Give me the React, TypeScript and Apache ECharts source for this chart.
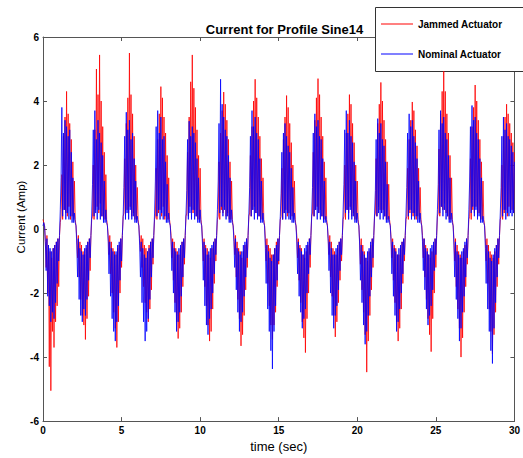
import React, { useEffect, useRef } from "react";
import * as echarts from "echarts";

// Samples per second of the recorded current traces (time grid of the series)
const sampleRate = 20;

// Jammed actuator current (Amp), one row per 2 s of the profile
const jammed: number[] = [
  0.3, 0.2, 0.1, -0.4, -1.2, -0.2, -2.0, -0.5, -4.3, -0.7, -5.05, -0.9, -3.2, -0.6, -3.7, -0.5, -2.9, -0.4, -2.4, -0.3, -1.8, -0.2, 0.2, 0.4, 1.7, 0.3, 2.9, 0.6, 3.5, 0.5, 4.3, 0.4, 3.6, 0.7, 3.3, 0.3, 2.8, 0.4, 2.1, 0.3,
  1.5, 0.3, 0.1, -0.3, -0.9, -0.2, -1.5, -0.4, -2.2, -0.5, -2.7, -0.7, -3.0, -0.8, -3.45, -0.6, -2.8, -0.4, -2.1, -0.3, -1.3, -0.2, 0.3, 0.4, 2.0, 0.3, 3.1, 0.6, 5.0, 0.7, 4.2, 0.5, 5.44, 0.8, 4.0, 0.4, 3.2, 0.3, 2.4, 0.3,
  1.7, 0.3, 0.1, -0.2, -0.8, -0.2, -1.4, -0.4, -2.0, -0.6, -2.6, -0.7, -3.1, -0.8, -3.7, -0.6, -2.9, -0.5, -2.0, -0.3, -1.2, -0.2, 0.4, 0.5, 2.2, 0.4, 3.3, 0.6, 4.1, 0.5, 5.5, 0.7, 4.2, 0.4, 3.6, 0.5, 2.9, 0.3, 2.0, 0.3,
  1.3, 0.3, 0.1, -0.3, -0.7, -0.2, -1.2, -0.3, -1.8, -0.5, -2.3, -0.6, -2.6, -0.7, -2.9, -0.5, -2.5, -0.4, -1.9, -0.3, -1.1, -0.2, 0.3, 0.4, 1.9, 0.3, 2.8, 0.5, 3.6, 0.6, 4.45, 0.4, 4.1, 0.7, 3.5, 0.3, 3.0, 0.4, 2.3, 0.3,
  1.6, 0.3, 0.1, -0.2, -0.9, -0.3, -1.6, -0.4, -2.3, -0.6, -2.9, -0.7, -3.42, -0.8, -3.1, -0.6, -2.6, -0.4, -1.8, -0.3, -1.1, -0.2, 0.4, 0.5, 2.4, 0.4, 3.5, 0.7, 4.6, 0.6, 5.44, 0.5, 4.4, 0.6, 3.8, 0.4, 3.1, 0.3, 2.3, 0.3,
  1.9, 0.3, 0.1, -0.3, -1.0, -0.3, -1.8, -0.5, -2.4, -0.6, -3.0, -0.8, -3.5, -0.9, -3.2, -0.6, -2.5, -0.4, -1.7, -0.3, -1.0, -0.2, 0.3, 0.4, 2.1, 0.3, 3.0, 0.6, 3.7, 0.5, 4.28, 0.7, 3.9, 0.4, 3.4, 0.5, 2.8, 0.3, 2.1, 0.3,
  1.5, 0.3, 0.1, -0.2, -0.8, -0.2, -1.5, -0.4, -2.2, -0.6, -2.8, -0.7, -3.65, -0.9, -3.3, -0.7, -2.7, -0.5, -1.9, -0.3, -1.2, -0.2, 0.4, 0.5, 2.3, 0.4, 3.2, 0.6, 4.0, 0.7, 4.68, 0.5, 4.1, 0.6, 3.5, 0.4, 2.9, 0.3, 2.2, 0.3,
  1.6, 0.3, 0.1, -0.3, -1.0, -0.3, -1.7, -0.5, -2.4, -0.6, -3.0, -0.8, -3.45, -0.8, -3.0, -0.6, -2.6, -0.4, -1.8, -0.3, -1.1, -0.2, 0.3, 0.4, 1.9, 0.3, 2.8, 0.5, 3.5, 0.6, 4.17, 0.4, 3.8, 0.5, 3.3, 0.3, 2.7, 0.4, 2.0, 0.3,
  1.5, 0.3, 0.1, -0.2, -0.9, -0.3, -1.6, -0.5, -2.3, -0.6, -2.9, -0.8, -3.4, -0.9, -3.86, -0.7, -2.8, -0.5, -2.0, -0.3, -1.2, -0.2, 0.4, 0.5, 2.4, 0.4, 3.4, 0.6, 4.1, 0.7, 4.7, 0.5, 4.2, 0.6, 3.5, 0.4, 2.9, 0.3, 2.1, 0.3,
  1.6, 0.3, 0.1, -0.3, -0.8, -0.2, -1.5, -0.4, -2.1, -0.6, -2.7, -0.7, -3.37, -0.8, -2.9, -0.6, -2.3, -0.4, -1.6, -0.3, -1.0, -0.2, 0.3, 0.4, 2.0, 0.3, 3.0, 0.6, 3.6, 0.5, 4.2, 0.7, 3.9, 0.4, 3.3, 0.5, 2.7, 0.3, 2.0, 0.3,
  1.5, 0.3, 0.1, -0.4, -1.1, -0.3, -1.9, -0.5, -2.6, -0.7, -3.3, -0.9, -4.47, -1.0, -3.5, -0.7, -2.7, -0.5, -1.9, -0.3, -1.2, -0.2, 0.4, 0.5, 2.2, 0.4, 3.3, 0.7, 3.9, 0.6, 4.58, 0.5, 4.0, 0.6, 3.4, 0.4, 2.8, 0.3, 2.1, 0.3,
  1.4, 0.3, 0.1, -0.3, -0.9, -0.3, -1.6, -0.5, -2.3, -0.6, -2.9, -0.8, -3.5, -0.8, -3.1, -0.6, -2.5, -0.4, -1.7, -0.3, -1.0, -0.2, 0.3, 0.4, 1.9, 0.3, 2.8, 0.5, 3.4, 0.6, 3.97, 0.4, 3.7, 0.5, 3.1, 0.3, 2.6, 0.4, 1.9, 0.3,
  1.3, 0.3, 0.1, -0.2, -0.9, -0.3, -1.5, -0.5, -2.2, -0.6, -2.8, -0.8, -3.3, -0.9, -3.83, -0.7, -2.8, -0.5, -2.0, -0.3, -1.2, -0.2, 0.4, 0.5, 2.5, 0.4, 3.6, 0.7, 4.3, 0.6, 4.93, 0.8, 4.3, 0.5, 3.6, 0.4, 3.0, 0.3, 2.3, 0.3,
  1.6, 0.3, 0.1, -0.3, -1.0, -0.3, -1.8, -0.5, -2.5, -0.7, -3.1, -0.8, -4.0, -0.9, -3.4, -0.7, -2.6, -0.5, -1.8, -0.3, -1.1, -0.2, 0.3, 0.4, 2.2, 0.3, 3.2, 0.6, 3.8, 0.5, 4.5, 0.7, 4.0, 0.4, 3.4, 0.5, 2.8, 0.3, 2.1, 0.3,
  1.5, 0.3, 0.1, -0.3, -1.0, -0.3, -1.7, -0.5, -2.5, -0.7, -3.2, -0.8, -3.9, -0.9, -3.3, -0.7, -2.6, -0.5, -1.8, -0.3, -1.1, -0.2, 0.3, 0.4, 2.0, 0.3, 2.9, 0.5, 3.5, 0.6, 3.9, 0.4, 3.6, 0.7, 3.3, 0.5, 3.0, 0.6, 2.7, 0.5,
  2.4,
];

// Nominal actuator current (Amp), one row per 2 s of the profile
const nominal: number[] = [
  0.1, 0.2, 0.1, -0.4, -1.3, -0.3, -2.1, -0.5, -2.4, -0.6, -2.9, -0.7, -2.6, -0.6, -2.8, -0.5, -2.3, -0.4, -1.7, -0.3, -1.0, -0.2, 0.6, 1.6, 3.8, 0.4, 3.0, 0.6, 3.4, 0.3, 3.2, 0.5, 2.9, 0.3, 3.1, 0.4, 2.4, 0.2, 1.6, 0.2,
  0.5, 0.2, 0.1, -0.5, -1.5, -0.3, -2.2, -0.6, -2.7, -0.7, -2.9, -0.8, -2.5, -0.6, -2.7, -0.5, -2.2, -0.4, -1.6, -0.3, -0.9, -0.2, 0.5, 1.4, 3.1, 0.4, 3.7, 0.5, 2.8, 0.3, 3.4, 0.6, 3.0, 0.3, 2.7, 0.4, 2.3, 0.2, 1.5, 0.2,
  0.6, 0.2, 0.1, -0.4, -1.4, -0.4, -2.1, -0.6, -2.8, -0.7, -3.2, -0.8, -3.5, -0.7, -2.9, -0.5, -2.4, -0.4, -1.6, -0.3, -1.0, -0.2, 0.4, 1.3, 2.9, 0.3, 3.65, 0.5, 3.1, 0.3, 3.4, 0.6, 2.8, 0.3, 3.0, 0.4, 2.2, 0.2, 1.5, 0.2,
  0.4, 0.2, 0.1, -0.5, -1.5, -0.4, -2.3, -0.6, -2.9, -0.8, -3.5, -0.9, -3.2, -0.7, -2.8, -0.6, -2.2, -0.4, -1.5, -0.3, -0.9, -0.2, 0.5, 1.5, 3.2, 0.4, 3.7, 0.6, 3.0, 0.3, 3.5, 0.5, 2.8, 0.3, 2.9, 0.4, 2.1, 0.2, 1.4, 0.2,
  0.5, 0.2, 0.1, -0.4, -1.3, -0.4, -2.0, -0.6, -2.6, -0.7, -3.2, -0.8, -2.9, -0.6, -2.6, -0.5, -2.1, -0.4, -1.5, -0.3, -0.9, -0.2, 0.5, 1.2, 2.8, 0.3, 3.37, 0.5, 2.9, 0.3, 3.2, 0.6, 3.0, 0.3, 2.7, 0.4, 2.2, 0.2, 1.6, 0.2,
  0.6, 0.2, 0.1, -0.5, -1.6, -0.4, -2.4, -0.6, -3.0, -0.8, -3.3, -0.7, -2.8, -0.6, -2.5, -0.5, -2.0, -0.4, -1.4, -0.3, -0.8, -0.2, 0.6, 1.5, 3.3, 0.5, 4.68, 0.7, 3.9, 0.4, 3.5, 0.6, 3.1, 0.3, 2.9, 0.4, 2.3, 0.2, 1.6, 0.2,
  0.6, 0.2, 0.1, -0.4, -1.2, -0.3, -1.9, -0.6, -2.6, -0.7, -3.2, -0.8, -2.9, -0.7, -2.6, -0.5, -2.1, -0.4, -1.5, -0.3, -0.9, -0.2, 0.5, 1.3, 2.9, 0.4, 3.7, 0.6, 3.2, 0.3, 3.5, 0.5, 3.0, 0.3, 2.8, 0.4, 2.2, 0.2, 1.5, 0.2,
  0.5, 0.2, 0.1, -0.6, -1.7, -0.5, -2.5, -0.7, -3.2, -0.9, -3.8, -1.0, -4.37, -0.8, -3.2, -0.6, -2.4, -0.5, -1.6, -0.3, -1.0, -0.2, 0.4, 1.1, 2.4, 0.3, 3.0, 0.5, 3.3, 0.3, 2.9, 0.5, 2.6, 0.3, 2.4, 0.3, 1.9, 0.2, 1.3, 0.2,
  0.5, 0.2, 0.1, -0.4, -1.4, -0.4, -2.1, -0.6, -2.6, -0.7, -3.1, -0.8, -2.8, -0.6, -2.5, -0.5, -2.0, -0.4, -1.4, -0.3, -0.8, -0.2, 0.5, 1.3, 3.0, 0.4, 3.6, 0.6, 3.2, 0.3, 3.4, 0.5, 2.9, 0.3, 2.8, 0.4, 2.2, 0.2, 1.5, 0.2,
  0.4, 0.2, 0.1, -0.4, -1.3, -0.4, -2.0, -0.6, -2.7, -0.8, -3.1, -0.8, -2.7, -0.6, -2.4, -0.5, -1.9, -0.4, -1.3, -0.3, -0.8, -0.2, 0.6, 1.4, 3.1, 0.5, 3.7, 0.6, 3.0, 0.3, 3.4, 0.6, 2.9, 0.3, 2.7, 0.4, 2.1, 0.2, 1.5, 0.2,
  0.5, 0.2, 0.1, -0.5, -1.6, -0.5, -2.3, -0.7, -3.0, -0.8, -3.6, -0.9, -3.2, -0.7, -2.7, -0.6, -2.1, -0.4, -1.5, -0.3, -0.9, -0.2, 0.5, 1.2, 2.8, 0.4, 3.45, 0.5, 3.0, 0.3, 3.3, 0.5, 2.8, 0.3, 2.6, 0.4, 2.1, 0.2, 1.4, 0.2,
  0.4, 0.2, 0.1, -0.4, -1.4, -0.4, -2.1, -0.6, -2.7, -0.7, -3.2, -0.8, -2.9, -0.6, -2.5, -0.5, -2.0, -0.4, -1.4, -0.3, -0.8, -0.2, 0.5, 1.3, 3.0, 0.4, 3.6, 0.6, 3.2, 0.3, 3.4, 0.5, 2.9, 0.3, 2.7, 0.4, 2.2, 0.2, 1.5, 0.2,
  0.5, 0.2, 0.1, -0.4, -1.3, -0.3, -1.9, -0.6, -2.5, -0.7, -3.0, -0.8, -2.7, -0.6, -2.4, -0.5, -1.9, -0.4, -1.3, -0.3, -0.8, -0.2, 0.6, 1.4, 3.1, 0.5, 3.7, 0.7, 3.3, 0.4, 3.5, 0.6, 3.0, 0.3, 2.8, 0.4, 2.3, 0.2, 1.6, 0.2,
  0.5, 0.2, 0.1, -0.5, -1.5, -0.4, -2.2, -0.7, -2.8, -0.8, -3.5, -0.9, -3.1, -0.7, -2.6, -0.6, -2.1, -0.4, -1.5, -0.3, -0.9, -0.2, 0.6, 1.5, 3.2, 0.5, 3.86, 0.7, 3.4, 0.4, 3.5, 0.6, 3.0, 0.3, 2.8, 0.4, 2.2, 0.2, 1.6, 0.2,
  0.4, 0.2, 0.1, -0.6, -1.7, -0.5, -2.5, -0.7, -3.2, -0.9, -3.8, -1.0, -4.2, -0.8, -3.1, -0.6, -2.3, -0.5, -1.5, -0.3, -0.9, -0.2, 0.5, 1.3, 2.9, 0.4, 3.5, 0.6, 3.1, 0.3, 3.3, 0.5, 2.9, 0.4, 2.8, 0.5, 2.6, 0.4, 2.4, 0.5,
  2.1,
];

const seriesNames = ["Jammed Actuator", "Nominal Actuator"];
const xTicks = { min: 0, max: 30, interval: 5 };
const yTicks = { min: -6, max: 6, interval: 2 };

const FONT = "'Liberation Sans', Arial, Helvetica, sans-serif";

export default function App() {
  const ref = useRef<HTMLDivElement>(null);

  useEffect(() => {
    if (!ref.current) return;
    const chart = echarts.init(ref.current, undefined, { renderer: "svg" });
    const toPairs = (arr: number[]) => arr.map((v, i) => [i / sampleRate, v]);
    const axisLine = { show: true, onZero: false, lineStyle: { color: "#555", width: 1 } };
    const axisTick = { show: true, inside: true, length: 4, lineStyle: { color: "#555" } };
    const tickLabel = { color: "#000", fontFamily: FONT, fontSize: 10, fontWeight: "bold" as const, margin: 4 };

    chart.setOption({
      animation: false,
      backgroundColor: "#fff",
      textStyle: { fontFamily: FONT },
      title: {
        text: "Current for Profile Sine14",
        left: 279.5,
        textAlign: "center",
        top: 18,
        textStyle: { fontFamily: FONT, fontSize: 13, fontWeight: "bold", color: "#000" },
      },
      grid: { left: 43, right: 8, top: 37, bottom: 28, show: false },
      xAxis: [
        {
          type: "value",
          ...xTicks,
          axisLine,
          axisTick,
          splitLine: { show: false },
          axisLabel: tickLabel,
          name: "time (sec)",
          nameLocation: "middle",
          nameGap: 16,
          nameTextStyle: { fontFamily: FONT, fontSize: 13, color: "#000" },
        },
        {
          type: "value",
          position: "top",
          ...xTicks,
          axisLine,
          axisTick,
          splitLine: { show: false },
          axisLabel: { show: false },
        },
      ],
      yAxis: [
        {
          type: "value",
          ...yTicks,
          axisLine,
          axisTick,
          splitLine: { show: false },
          axisLabel: tickLabel,
        },
        {
          type: "value",
          position: "right",
          ...yTicks,
          axisLine,
          axisTick,
          splitLine: { show: false },
          axisLabel: { show: false },
        },
      ],
      legend: {
        data: seriesNames,
        orient: "vertical",
        left: 381,
        top: 18,
        padding: 0,
        itemGap: 18,
        itemWidth: 32,
        itemHeight: 1,
        icon: "rect",
        textStyle: { fontFamily: FONT, fontSize: 10, fontWeight: "bold", color: "#000", lineHeight: 12 },
      },
      graphic: [
        {
          type: "rect",
          z: 3,
          shape: { x: 375.5, y: 7.5, width: 160, height: 64 },
          style: { fill: "#fff", stroke: "#333", lineWidth: 1 },
        },
        {
          type: "text",
          x: 21,
          y: 217,
          rotation: Math.PI / 2,
          style: {
            text: "Current (Amp)",
            fontFamily: FONT,
            fontSize: 11.5,
            fill: "#000",
            align: "center",
            verticalAlign: "middle",
          },
        },
      ],
      series: [
        {
          name: seriesNames[0],
          type: "line",
          data: toPairs(jammed),
          symbol: "none",
          lineStyle: { color: "#ff0000", width: 1, opacity: 0.8 },
          itemStyle: { color: "#ff0000" },
        },
        {
          name: seriesNames[1],
          type: "line",
          data: toPairs(nominal),
          symbol: "none",
          lineStyle: { color: "#0000ff", width: 1, opacity: 0.8 },
          itemStyle: { color: "#0000ff" },
        },
      ],
    });
    return () => chart.dispose();
  }, []);

  return (
    <div
      ref={ref}
      style={{ position: "fixed", left: 0, top: 0, width: 523, height: 458 }}
    />
  );
}
